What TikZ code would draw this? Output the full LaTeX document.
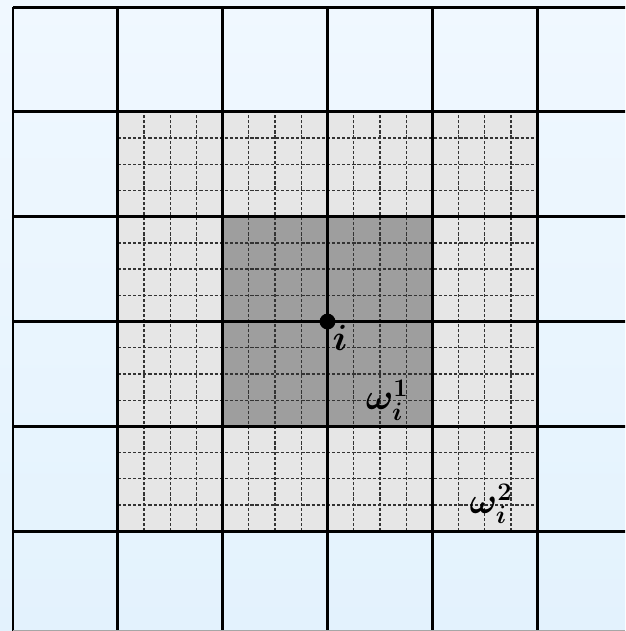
\documentclass[tikz,border=0pt]{standalone}
\usepackage{amsmath,amssymb,bm}
\usepackage{xcolor}
\usepackage{tikz}
\usetikzlibrary{positioning}

\definecolor{bgtop}{RGB}{240,248,255}
\definecolor{bgbot}{RGB}{227,242,253}
\definecolor{patchlight}{RGB}{230,230,230}
\definecolor{patchdark}{RGB}{158,158,158}

\begin{document}
\begin{tikzpicture}[x=2.096cm,y=2.096cm,
  coarse/.style={black,line width=1.7pt},
  fine/.style={black!80,line width=0.7pt,dash pattern=on 1.8pt off 1.1pt},
  lbl/.style={font=\fontsize{21}{25}\selectfont}]
  \useasboundingbox (-0.124,0.048) rectangle (5.840,6.067);
  \clip (-0.124,0.048) rectangle (5.840,6.067);
  \shade[top color=bgtop,bottom color=bgbot] (-0.124,0.048) rectangle (5.840,6.067);
  % patches
  \fill[patchlight] (1,1) rectangle (5,5);
  \fill[patchdark] (2,2) rectangle (4,4);
  % fine grid
  \foreach \k in {1,...,15} {
    \draw[fine] ({1+\k/4},1) -- ({1+\k/4},5);
    \draw[fine] (1,{1+\k/4}) -- (5,{1+\k/4});
  }
  % coarse grid
  \foreach \k in {0,...,6} {
    \draw[coarse] (\k,0) -- (\k,6);
    \draw[coarse] (0,\k) -- (6,\k);
  }
  \draw[gray!70,line width=0.5pt] (0,0.054) -- (5.84,0.054);
  \node[circle,fill=black,inner sep=0pt,minimum size=9pt] (pt) at (3,3) {};
  \node[font=\fontsize{22}{26}\selectfont] (ilbl) at (3.12,2.84) {$\bm{i}$};
  \node[lbl] (w1) at (3.57,2.25) {$\bm{\omega_i^1}$};
  \node[lbl] (w2) at (4.56,1.26) {$\bm{\omega_i^2}$};
\end{tikzpicture}
\end{document}
